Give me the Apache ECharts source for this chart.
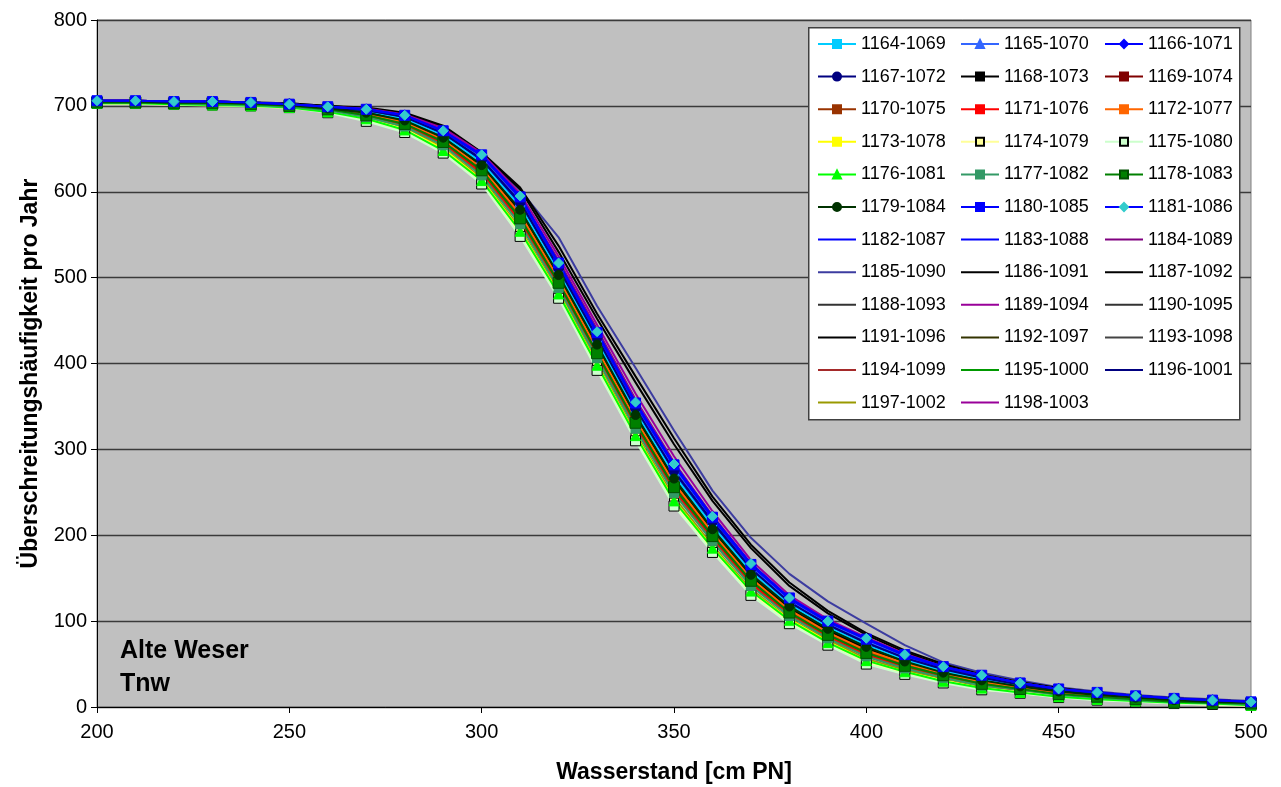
<!DOCTYPE html>
<html>
<head>
<meta charset="utf-8">
<script src="https://cdn.jsdelivr.net/npm/echarts@6/dist/echarts.min.js"></script>
<style>
html,body{margin:0;padding:0;background:#fff;}
#chart{width:1281px;height:787px;}
</style>
</head>
<body>
<div id="chart"></div>
<script>
var xValues = [200,210,220,230,240,250,260,270,280,290,300,310,320,330,340,350,360,370,380,390,400,410,420,430,440,450,460,470,480,490,500];
var yTicks = [0,100,200,300,400,500,600,700,800];
var xTicks = [200,250,300,350,400,450,500];

var s1164 = [705,705,704,704,703,701,697,693,685,666,634,583,507,426,344,270,211,158,120,93,72,55,42,33,25,18,14,11,8,6,5];
var s1165 = [706,705,705,704,704,702,698,695,688,669,639,589,514,432,352,279,219,164,125,97,77,58,45,36,27,20,16,12,10,7,5];
var s1166 = [706,706,705,705,704,702,699,696,689,670,642,593,515,435,353,281,220,165,126,99,79,60,46,36,28,21,16,13,10,8,6];
var s1167 = [705,705,705,704,703,702,698,695,687,668,638,588,511,430,348,275,216,161,122,96,75,57,44,34,26,19,15,12,9,7,5];
var s1168 = [705,705,704,703,702,700,697,692,682,662,629,576,501,419,337,263,205,152,115,89,68,52,39,30,23,17,13,10,8,6,4];
var s1169 = [705,704,704,703,702,700,696,690,681,659,627,571,496,414,334,258,200,148,112,85,64,49,37,28,21,16,12,9,7,5,4];
var s1170 = [704,704,704,703,702,700,696,690,680,658,624,570,495,412,331,256,199,147,111,85,64,49,37,28,22,16,12,9,7,5,4];
var s1171 = [704,704,703,702,701,699,695,688,678,656,621,565,490,408,326,251,195,143,108,82,61,46,35,26,20,15,11,8,6,5,3];
var s1172 = [705,705,704,703,702,700,696,691,681,661,628,574,499,417,335,261,203,150,113,87,66,51,39,29,23,17,13,10,7,6,4];
var s1173 = [703,703,702,701,700,698,694,685,673,650,614,555,482,399,317,241,186,135,102,76,54,41,31,22,17,12,9,7,5,4,2];
var s1174 = [703,703,702,701,700,698,694,684,672,647,611,552,479,396,314,238,183,133,99,74,52,40,30,21,17,12,9,7,5,3,2];
var s1175 = [703,703,702,701,700,698,692,682,669,645,609,548,476,392,310,234,180,130,97,72,50,38,28,20,16,11,8,6,4,3,2];
var s1176 = [703,703,702,701,700,698,693,685,672,648,613,554,481,398,316,240,185,135,101,75,54,41,30,22,17,12,9,7,5,4,2];
var s1177 = [704,704,703,702,701,699,695,687,676,654,619,562,488,406,324,249,193,141,106,80,59,45,34,25,20,14,11,8,6,5,3];
var s1178 = [704,704,703,703,702,700,696,689,679,658,625,569,494,412,331,256,199,147,110,84,63,48,37,27,21,15,12,9,6,5,4];
var s1179 = [705,705,704,704,703,701,697,692,683,663,631,579,503,422,340,266,207,154,117,91,70,53,40,31,24,18,14,11,8,6,5];
var s1180 = [706,706,705,705,704,702,699,696,689,671,643,594,517,436,354,282,221,166,127,100,79,61,47,37,28,21,17,13,10,8,6];
var s1181 = [706,706,705,705,704,702,699,696,689,671,643,595,517,437,355,283,222,167,127,100,80,61,47,37,28,21,17,13,10,8,6];
var s1182 = [706,706,705,705,704,702,698,696,688,671,641,591,514,434,352,279,218,164,124,97,77,59,45,35,27,20,16,12,9,7,6];
var s1183 = [705,705,704,704,703,701,698,694,686,668,636,586,510,428,347,273,214,160,121,95,74,56,43,34,25,19,15,12,9,7,5];
var s1184 = [705,705,705,704,703,702,699,696,689,671,641,594,520,440,358,285,222,166,126,98,77,59,45,35,27,20,16,12,9,7,5];
var s1185 = [706,705,705,705,704,703,700,697,691,676,645,602,547,467,395,322,252,197,155,123,97,72,52,40,31,23,18,14,11,9,7];
var s1186 = [706,706,705,705,704,703,700,698,692,677,646,605,537,458,385,313,245,189,145,112,86,66,50,38,29,22,17,13,10,8,6];
var s1187 = [706,706,705,705,704,702,700,697,691,676,645,603,530,452,378,306,240,185,141,109,84,64,48,37,28,21,16,13,10,8,6];
var s1188 = [705,705,704,704,703,701,697,693,684,665,633,581,505,424,342,268,209,156,118,92,71,54,41,32,24,18,14,11,8,6,5];
var s1189 = [706,706,705,705,704,702,699,697,690,674,645,598,525,445,365,292,228,171,130,102,81,62,47,37,28,21,17,13,10,8,6];
var s1190 = [705,705,704,703,702,700,697,692,682,663,630,577,502,420,338,264,206,153,116,90,69,52,40,30,23,17,13,10,8,6,4];
var s1191 = [705,705,704,703,702,700,696,691,681,660,627,573,498,416,334,260,202,150,113,87,66,50,38,29,22,16,12,9,7,5,4];
var s1192 = [704,704,703,703,702,700,695,689,679,657,623,567,492,410,328,254,197,145,109,83,62,47,36,27,21,15,12,9,6,5,4];
var s1193 = [704,704,703,702,701,699,695,688,677,655,620,563,489,406,325,250,193,142,107,81,59,45,34,26,20,14,11,8,6,5,3];
var s1194 = [704,704,703,702,701,699,695,688,678,656,622,566,491,409,327,252,196,144,108,82,61,46,35,26,20,15,11,8,6,5,3];
var s1195 = [703,703,702,701,700,698,694,685,673,648,612,553,480,397,315,239,184,134,100,75,53,40,30,22,17,12,9,7,5,4,2];
var s1196 = [705,705,704,704,703,701,698,694,685,667,635,584,508,427,345,271,212,159,120,94,73,55,42,33,25,19,15,11,8,7,5];
var s1197 = [704,704,703,702,701,699,694,687,675,651,616,557,484,401,319,244,188,137,103,78,56,43,32,23,18,13,10,7,5,4,3];
var s1198 = [706,706,705,705,704,702,698,696,689,672,642,593,518,438,357,284,223,167,127,99,78,60,46,36,27,20,16,12,9,7,6];

var seriesNames = ['1164-1069','1165-1070','1166-1071','1167-1072','1168-1073','1169-1074','1170-1075','1171-1076','1172-1077','1173-1078','1174-1079','1175-1080','1176-1081','1177-1082','1178-1083','1179-1084','1180-1085','1181-1086','1182-1087','1183-1088','1184-1089','1185-1090','1186-1091','1187-1092','1188-1093','1189-1094','1190-1095','1191-1096','1192-1097','1193-1098','1194-1099','1195-1000','1196-1001','1197-1002','1198-1003'];
var seriesValues = [s1164,s1165,s1166,s1167,s1168,s1169,s1170,s1171,s1172,s1173,s1174,s1175,s1176,s1177,s1178,s1179,s1180,s1181,s1182,s1183,s1184,s1185,s1186,s1187,s1188,s1189,s1190,s1191,s1192,s1193,s1194,s1195,s1196,s1197,s1198];

// style per series: [lineColor, symbol, symbolSize, markerFill, markerBorder, lineWidth]
var styles = [
  ['#00ccff','rect',8,'#00ccff','#00ccff',2],
  ['#3366ff','triangle',10,'#3366ff','#3366ff',2],
  ['#0000ff','diamond',11,'#0000ff','#0000ff',2],
  ['#000080','circle',10,'#000080','#000080',2],
  ['#000000','rect',8,'#000000','#000000',2],
  ['#800000','rect',8,'#800000','#800000',2],
  ['#993300','rect',8,'#993300','#993300',2],
  ['#ff0000','rect',8,'#ff0000','#ff0000',2],
  ['#ff6600','rect',8,'#ff6600','#ff6600',2],
  ['#ffff00','rect',8,'#ffff00','#ffff00',2],
  ['#ffff99','rect',9,'#ffff99','#000000',3],
  ['#ccffcc','rect',10,'#ccffcc','#000000',2],
  ['#00ff00','triangle',10,'#00ff00','#00ff00',2],
  ['#339966','rect',9,'#339966','#339966',2],
  ['#008000','rect',11,'#008000','#005000',2],
  ['#003300','circle',9,'#003300','#003300',2],
  ['#0000ff','rect',10,'#0000ff','#0000ff',2],
  ['#0000ff','diamond',10,'#33cccc','#33cccc',2],
  ['#0000ff','none',0,null,null,2],
  ['#0000ff','none',0,null,null,2],
  ['#800080','none',0,null,null,2],
  ['#3c3ca0','none',0,null,null,2],
  ['#000000','none',0,null,null,2],
  ['#000000','none',0,null,null,2],
  ['#333333','none',0,null,null,2],
  ['#990099','none',0,null,null,2],
  ['#333333','none',0,null,null,2],
  ['#000000','none',0,null,null,2],
  ['#333300','none',0,null,null,2],
  ['#444444','none',0,null,null,2],
  ['#a52a2a','none',0,null,null,2],
  ['#009900','none',0,null,null,2],
  ['#000080','none',0,null,null,2],
  ['#999900','none',0,null,null,2],
  ['#990099','none',0,null,null,2]
];

var FONT = '"Liberation Sans", Arial, sans-serif';
var series = [];
for (var i = 0; i < seriesNames.length; i++) {
  var st = styles[i];
  var pts = [];
  for (var j = 0; j < xValues.length; j++) pts.push([xValues[j], seriesValues[i][j]]);
  var hasMarker = st[1] !== 'none';
  series.push({
    name: seriesNames[i],
    type: 'line',
    data: pts,
    smooth: false,
    symbol: st[1],
    symbolSize: st[2],
    showSymbol: hasMarker,
    z: hasMarker ? 3 : 2,
    color: st[0],
    lineStyle: { color: st[0], width: st[5] },
    itemStyle: hasMarker ? { color: st[3], borderColor: st[4], borderWidth: 1 } : { color: st[0] },
    emphasis: { disabled: true },
    animation: false
  });
}

function legendCol(start, left) {
  var data = [];
  for (var k = start; k < seriesNames.length; k += 3) {
    var hasMarker = styles[k][1] !== 'none';
    var item = { name: seriesNames[k] };
    if (!hasMarker) item.itemStyle = { opacity: 0 };
    data.push(item);
  }
  return {
    orient: 'vertical',
    left: left,
    top: 34,
    z: 20,
    padding: 0,
    itemWidth: 38,
    itemHeight: 10,
    itemGap: 12.6,
    selectedMode: false,
    data: data,
    textStyle: { fontFamily: FONT, fontSize: 18, color: '#000', lineHeight: 20 }
  };
}

var chart = echarts.init(document.getElementById('chart'), null, { renderer: 'canvas' });
chart.setOption({
  backgroundColor: '#ffffff',
  animation: false,
  grid: { left: 97, right: 30, top: 20, bottom: 80, outerBoundsMode: 'none', containLabel: false, show: true, backgroundColor: '#c0c0c0', borderColor: '#808080', borderWidth: 1 },
  xAxis: {
    type: 'value', min: 200, max: 500, interval: 50,
    name: 'Wasserstand [cm PN]', nameLocation: 'middle', nameGap: 54,
    nameTextStyle: { fontFamily: FONT, fontSize: 23, fontWeight: 'bold', color: '#000' },
    axisLine: { show: true, lineStyle: { color: '#000', width: 1 } },
    axisTick: { show: true, inside: false, length: 6, lineStyle: { color: '#000' } },
    axisLabel: { fontFamily: FONT, fontSize: 20, color: '#000', margin: 15 },
    splitLine: { show: false }
  },
  yAxis: {
    type: 'value', min: 0, max: 800, interval: 100,
    name: 'Überschreitungshäufigkeit pro Jahr', nameLocation: 'middle', nameGap: 55,
    nameTextStyle: { fontFamily: FONT, fontSize: 23, fontWeight: 'bold', color: '#000', padding: [0, 20, 0, 0] },
    axisLine: { show: true, lineStyle: { color: '#000', width: 1 } },
    axisTick: { show: true, inside: false, length: 6, lineStyle: { color: '#000' } },
    axisLabel: { fontFamily: FONT, fontSize: 20, color: '#000', margin: 10 },
    splitLine: { show: true, lineStyle: { color: '#3a3a3a', width: 1.3 } }
  },
  legend: [legendCol(0, 817), legendCol(1, 960), legendCol(2, 1104)],
  graphic: [
    { type: 'rect', left: 808, top: 27, z: 5, shape: { width: 431, height: 392 }, style: { fill: '#ffffff', stroke: '#404040', lineWidth: 1.5 } },
    { type: 'text', left: 120, top: 635, z: 60, style: { text: 'Alte Weser\nTnw', fontFamily: FONT, fontSize: 25, fontWeight: 'bold', fill: '#000', lineHeight: 33 } }
  ],
  series: series
});
</script>
</body>
</html>
